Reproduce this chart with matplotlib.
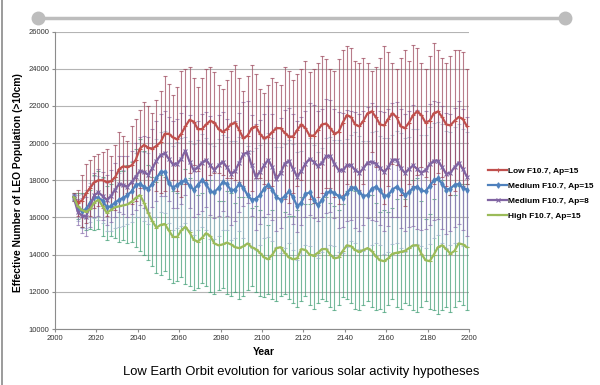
import numpy as np
import matplotlib.pyplot as plt
from matplotlib.lines import Line2D

plt.rcParams["font.family"] = ["Liberation Sans", "DejaVu Sans"]

# sample years (every 2 years)
years = np.arange(2009, 2200, 2)

# Low F10.7, Ap=15 (mean and upper error cap)
low_mean = [
    17100, 16800, 16900, 17300, 17600, 17900, 18000, 18000, 17900, 17950,
    18150, 18600, 18750, 18700, 18800, 19100, 19700, 19900, 19750, 19700,
    19850, 20050, 20500, 20500, 20300, 20200, 20500, 20900, 21250, 21150,
    20750, 20750, 21000, 21200, 21100, 20750, 20600, 20750, 21000, 21100,
    20700, 20250, 20400, 20800, 20900, 20500, 20250, 20350, 20600, 20800,
    20800, 20550, 20350, 20350, 20700, 21000, 20800, 20400, 20400, 20700,
    21000, 21050, 20800, 20500, 20600, 21100, 21500, 21400, 21000, 20900,
    21200, 21600, 21700, 21400, 21000, 20950, 21300, 21600, 21400, 20900,
    20800, 21100, 21500, 21700, 21500, 21100, 21200, 21600, 21700, 21400,
    21000, 20950, 21200, 21400, 21300, 20900,
]
low_upper = [
    17300, 17500, 18300, 18900, 19100, 19300, 19400, 19500, 19700, 19300,
    19900, 20600, 20400, 20100, 20900, 21300, 21800, 22200, 22000, 21600,
    22300, 22800, 23600, 23200, 22600, 23000, 23900, 24000, 24100, 23500,
    23000, 23500, 24000, 24100, 23800, 23100, 22900, 23400, 23900, 24200,
    23500, 22800, 23600, 24200, 23700, 22900, 22700, 23100, 23500, 23300,
    23100, 24100, 23900, 23400, 23700, 24000, 24400, 23800, 24000, 24300,
    24700, 24500, 24000, 23900, 24500, 25000, 25200, 25100, 24400, 24300,
    24600, 24300, 23900, 24100, 24600, 25200, 24900, 24300, 24000, 24600,
    25000, 24400, 25300, 25100, 24300, 24000, 24700, 25400, 25000, 24600,
    24300, 24700, 25000, 25000, 24900, 24000,
]

# Medium F10.7, Ap=15
med15_mean = [
    17100, 16500, 16350, 16450, 16800, 17100, 17050, 16900, 16550, 16600,
    16800, 16950, 17050, 17200, 17400, 17750, 17800, 17650, 17550, 17800,
    18100, 18450, 18450, 17850, 17600, 17750, 17900, 18000, 17700, 17500,
    17750, 18000, 17800, 17400, 17350, 17600, 17900, 17800, 17450, 17500,
    17800, 17600, 17200, 16950, 17000, 17200, 17550, 17750, 17500, 17100,
    16950, 17150, 17400, 17100, 16600, 16800, 17250, 17350, 16950, 16650,
    16950, 17300, 17400, 17300, 17150, 17050, 17300, 17600, 17600, 17350,
    17150, 17200, 17550, 17650, 17450, 17150, 17200, 17500, 17650, 17450,
    17200, 17350, 17600, 17650, 17450, 17400, 17700, 18000, 18100, 17800,
    17500, 17550, 17750, 17800, 17600, 17500,
]
med15_err = [
    150, 700, 900, 1000, 1050, 1150, 1200, 1200, 1300, 1350,
    1350, 1450, 1500, 1550, 1650, 1700, 1800, 1850, 1900, 2000,
    2100, 2150, 2200, 2150, 2250, 2300, 2350, 2300, 2400, 2450,
    2400, 2500, 2450, 2550, 2500, 2600, 2550, 2500, 2650, 2600,
    2550, 2700, 2650, 2600, 2750, 2700, 2650, 2800, 2750, 2700,
    2850, 2800, 2750, 2850, 2900, 2800, 2750, 2900, 2950, 2850,
    2800, 2950, 2900, 2850, 3000, 2950, 2900, 2850, 3000, 3050,
    2950, 2900, 3050, 3000, 2950, 3100, 3050, 2950, 3000, 3100,
    3050, 3000, 3150, 3100, 3000, 3050, 3150, 3100, 3050, 3200,
    3150, 3050, 3100, 3200, 3150, 3100,
]

# Medium F10.7, Ap=8
med8_mean = [
    17100, 16300, 16100, 16050, 16600, 17200, 17350, 17150, 16950, 17150,
    17500, 17800, 17750, 17650, 17900, 18200, 18500, 18450, 18300, 18650,
    19050, 19350, 19450, 19150, 18850, 18900, 19150, 19600, 19000, 18550,
    18700, 18950, 19100, 18800, 18550, 18800, 19000, 18700, 18350, 18500,
    18950, 19400, 19500, 18800, 18200, 18450, 18800, 19100, 18700, 18050,
    18400, 18900, 19050, 18600, 18200, 18500, 18900, 19150, 19000, 18750,
    18950, 19300, 19300, 18900, 18550, 18550, 18800, 18800, 18550, 18400,
    18650, 18950, 19000, 18900, 18650, 18450, 18700, 19100, 19100, 18650,
    18400, 18600, 18800, 18600, 18400, 18550, 18850, 19050, 19050, 18700,
    18350, 18400, 18700, 18950, 18600, 18200,
]
med8_err = [
    150, 700, 950, 1050, 1100, 1200, 1250, 1300, 1350, 1400,
    1450, 1500, 1550, 1650, 1700, 1800, 1850, 1950, 2000, 2100,
    2150, 2200, 2300, 2250, 2350, 2400, 2450, 2400, 2500, 2550,
    2500, 2600, 2550, 2650, 2600, 2700, 2650, 2600, 2750, 2700,
    2650, 2800, 2750, 2700, 2850, 2800, 2750, 2900, 2850, 2800,
    2950, 2900, 2850, 2950, 3000, 2900, 2850, 3000, 3050, 2950,
    2900, 3050, 3000, 2950, 3100, 3050, 3000, 2950, 3100, 3150,
    3050, 3000, 3150, 3100, 3050, 3200, 3150, 3050, 3100, 3200,
    3150, 3100, 3250, 3200, 3100, 3150, 3250, 3200, 3150, 3300,
    3250, 3150, 3200, 3300, 3250, 3200,
]

# High F10.7, Ap=15 (mean and lower error cap)
high_mean = [
    17100, 16600, 16400, 16300, 16450, 16800, 16950, 16600, 16250, 16400,
    16550, 16600, 16650, 16700, 16850, 17050, 17200, 16800, 16250, 15800,
    15450, 15600, 15650, 15300, 14950, 14950, 15300, 15500, 15200, 14800,
    14700, 14900, 15150, 15000, 14600, 14500, 14550, 14650, 14550, 14400,
    14350, 14450, 14600, 14400, 14300, 14100, 13850, 13750, 14000, 14350,
    14400, 14100, 13850, 13750, 13800, 14300, 14250, 14000, 13950, 14100,
    14300, 14300, 14000, 13800, 13850, 14200, 14500, 14450, 14250, 14150,
    14250, 14350, 14200, 13900, 13700, 13650, 13800, 14050, 14100, 14150,
    14200, 14350, 14500, 14500, 14050, 13700, 13650, 14000, 14400, 14500,
    14300, 14050, 14200, 14600, 14550, 14400,
]
high_lower = [
    16900, 15900, 15500, 15300, 15400, 15300, 15400, 15000, 14800, 15000,
    14900, 14700, 14800, 14600, 14700, 14400, 14200, 14000, 13700, 13400,
    13000, 12900, 13100, 12700, 12500, 12600, 12800, 12400, 12300, 12100,
    12200, 12500, 12300, 12000, 11900, 12100, 12200, 11900, 11800, 12000,
    11600, 11800, 12100, 12300, 12000, 11800, 11700, 11900, 11600, 11500,
    11800, 11900, 11600, 11400, 11200, 11500, 11800, 11300, 11100, 11400,
    11600, 11500, 11200, 11000, 11300, 11700, 11600, 11400, 11100, 11000,
    11300, 11500, 11200, 11000, 11100, 10900, 11300, 11600, 11200, 11100,
    11400, 11300, 11000, 10900, 11200, 11500, 11100, 11000, 10800, 11000,
    11200, 10900, 11200, 11500, 11300, 11000,
]

labels = ["Low F10.7, Ap=15", "Medium F10.7, Ap=15",
          "Medium F10.7, Ap=8", "High F10.7, Ap=15"]
line_colors = ["#C0504D", "#4F81BD", "#8064A2", "#9BBB59"]
bar_colors = ["#9A4458", "#9FB3CC", "#8A6FAE", "#3D9C72"]
markers = ["+", "d", "x", "_"]

low_mean = np.array(low_mean)
high_mean = np.array(high_mean)
low_err = np.array(low_upper) - low_mean
high_err = high_mean - np.array(high_lower)

means = [low_mean, np.array(med15_mean), np.array(med8_mean), high_mean]
errs = [low_err, np.array(med15_err), np.array(med8_err), high_err]

fig = plt.figure(figsize=(6, 3.85), dpi=100)
ax = fig.add_axes([55 / 600, 1 - 329 / 385, 414 / 600, 297.5 / 385])

# error bars behind the lines
for i in [3, 1, 2, 0]:
    ax.errorbar(years, means[i], yerr=errs[i], fmt="none",
                ecolor=bar_colors[i], elinewidth=0.8, capsize=1.6,
                capthick=0.8, alpha=0.7, zorder=2)

for i in range(4):
    ax.plot(years, means[i], color=line_colors[i], lw=1.6, marker=markers[i],
            ms=2.8, mew=0.8, label=labels[i], zorder=4)

ax.set_xlim(2000, 2200)
ax.set_ylim(10000, 26000)
ax.set_xticks(np.arange(2000, 2201, 20))
ax.set_yticks(np.arange(10000, 26001, 2000))
ax.yaxis.grid(True, color="#b4b4b4", lw=0.8)
ax.set_axisbelow(True)
for s in ["top", "right"]:
    ax.spines[s].set_visible(False)
for s in ["left", "bottom"]:
    ax.spines[s].set_color("#8c8c8c")
    ax.spines[s].set_linewidth(0.8)
ax.tick_params(axis="both", labelsize=5.5, colors="#8c8c8c", labelcolor="#333333",
               length=2.5, width=0.8, pad=1.5)

fig.text(18 / 600, 1 - 183 / 385, "Effective Number of LEO Population (>10cm)",
         rotation=90, ha="center", va="center", fontsize=7.4, fontweight="bold")
fig.text(264 / 600, 1 - 352 / 385, "Year", ha="center", va="center",
         fontsize=7.5, fontweight="bold")
fig.text(301 / 600, 1 - 372 / 385,
         "Low Earth Orbit evolution for various solar activity hypotheses",
         ha="center", va="center", fontsize=9.4)

handles, lab = ax.get_legend_handles_labels()
fig.legend(handles, lab, loc="upper left", bbox_to_anchor=(488 / 600, 1 - 167 / 385),
           frameon=False, prop={"size": 6, "weight": "bold"}, handlelength=2.3,
           handletextpad=0.1, labelspacing=0.85, borderpad=0, borderaxespad=0)

# slider decoration at the top and left frame line
fig.add_artist(Line2D([38 / 600, 565 / 600], [1 - 18 / 385, 1 - 18 / 385],
                      transform=fig.transFigure, color="#bdbdbd", lw=2.5,
                      marker="o", ms=9, solid_capstyle="butt"))
fig.add_artist(Line2D([1.5 / 600, 1.5 / 600], [0, 1], transform=fig.transFigure,
                      color="#8a8a8a", lw=1.2))

fig.savefig("out.png", dpi=100)
